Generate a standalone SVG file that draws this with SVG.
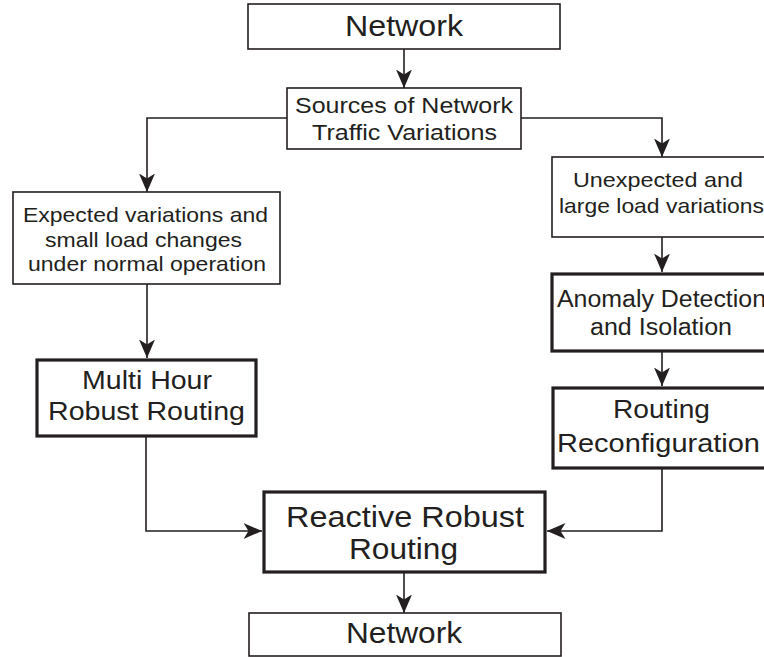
<svg xmlns="http://www.w3.org/2000/svg" width="764" height="657" viewBox="0 0 764 657">
<style>
.box{fill:#fff;stroke:#231f20;stroke-width:1.6}
.thick{fill:#fff;stroke:#231f20;stroke-width:3.2}
.conn{fill:none;stroke:#231f20;stroke-width:1.6;marker-end:url(#ah)}
text{font-family:"Liberation Sans",Arial,Helvetica,sans-serif;fill:#231f20}
</style>
<defs>
<marker id="ah" markerUnits="userSpaceOnUse" markerWidth="19" markerHeight="17" viewBox="0 0 19 17" refX="18.5" refY="8.5" orient="auto">
<path d="M18.5,8.5 L0,0.5 L5,8.5 L0,16.5 Z" fill="#231f20"/>
</marker>
</defs>
<rect width="764" height="657" fill="#fff"/>
<g id="connectors">
<path class="conn" d="M404,49 V88"/>
<path class="conn" d="M287,118 H147 V192"/>
<path class="conn" d="M521,118 H662 V157"/>
<path class="conn" d="M147,284 V358"/>
<path class="conn" d="M662,237 V272"/>
<path class="conn" d="M662,352 V386"/>
<path class="conn" d="M146,437 V531 H262"/>
<path class="conn" d="M662,469 V531 H547"/>
<path class="conn" d="M404,573 V613"/>
</g>
<g id="network-top">
<rect class="box" x="248" y="4" width="312" height="45"/>
<text x="345" y="36" font-size="29" textLength="118" lengthAdjust="spacingAndGlyphs">Network</text>
</g>
<g id="sources">
<rect class="box" x="287" y="88" width="234" height="61"/>
<text x="295" y="113" font-size="22" textLength="218" lengthAdjust="spacingAndGlyphs">Sources of Network</text>
<text x="312" y="140" font-size="22" textLength="185" lengthAdjust="spacingAndGlyphs">Traffic Variations</text>
</g>
<g id="expected">
<rect class="box" x="13" y="192" width="267" height="92"/>
<text x="23" y="222" font-size="21" textLength="245" lengthAdjust="spacingAndGlyphs">Expected variations and</text>
<text x="45" y="247" font-size="21" textLength="197" lengthAdjust="spacingAndGlyphs">small load changes</text>
<text x="28" y="271" font-size="21" textLength="238" lengthAdjust="spacingAndGlyphs">under normal operation</text>
</g>
<g id="unexpected">
<rect class="box" x="552" y="157" width="220" height="80"/>
<text x="573" y="187" font-size="21" textLength="170" lengthAdjust="spacingAndGlyphs">Unexpected and</text>
<text x="559" y="213" font-size="21" textLength="205" lengthAdjust="spacingAndGlyphs">large load variations</text>
</g>
<g id="multi-hour">
<rect class="thick" x="37" y="360" width="219" height="76"/>
<text x="82" y="389" font-size="26" textLength="130" lengthAdjust="spacingAndGlyphs">Multi Hour</text>
<text x="48" y="420" font-size="26" textLength="197" lengthAdjust="spacingAndGlyphs">Robust Routing</text>
</g>
<g id="anomaly">
<rect class="thick" x="552" y="274" width="220" height="77"/>
<text x="557" y="307" font-size="23" textLength="209" lengthAdjust="spacingAndGlyphs">Anomaly Detection</text>
<text x="590" y="335" font-size="23" textLength="142" lengthAdjust="spacingAndGlyphs">and Isolation</text>
</g>
<g id="reconfiguration">
<rect class="thick" x="553" y="388" width="220" height="80"/>
<text x="613" y="418" font-size="26" textLength="97" lengthAdjust="spacingAndGlyphs">Routing</text>
<text x="557" y="452" font-size="26" textLength="203" lengthAdjust="spacingAndGlyphs">Reconfiguration</text>
</g>
<g id="reactive">
<rect class="thick" x="264" y="492" width="281" height="80"/>
<text x="286" y="527" font-size="30" textLength="238" lengthAdjust="spacingAndGlyphs">Reactive Robust</text>
<text x="349" y="559" font-size="30" textLength="109" lengthAdjust="spacingAndGlyphs">Routing</text>
</g>
<g id="network-bottom">
<rect class="box" x="249" y="613" width="312" height="43"/>
<text x="346" y="643" font-size="29" textLength="116" lengthAdjust="spacingAndGlyphs">Network</text>
</g>
</svg>
